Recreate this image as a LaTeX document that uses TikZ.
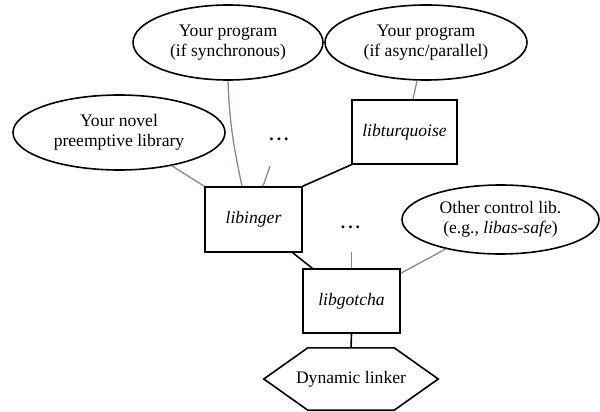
\documentclass[tikz,border=0pt]{standalone}
\usepackage{fontspec}
\setmainfont{LiberationSerif}[Extension=.ttf, UprightFont=*-Regular, ItalicFont=*-Italic, BoldFont=*-Bold, BoldItalicFont=*-BoldItalic]
\usetikzlibrary{shapes.geometric}
\definecolor{linkgray}{RGB}{122,140,162}
\begin{document}
\begin{tikzpicture}[x=1pt,y=-1pt,
  every node/.style={font=\rmfamily\fontsize{17.6}{19.5}\selectfont, align=center, inner sep=0pt},
  oval/.style={ellipse, draw, line width=1.6pt},
  libbox/.style={rectangle, draw, line width=1.6pt, minimum width=97pt, minimum height=64pt},
  blk/.style={line width=1.6pt},
  gry/.style={line width=1.3pt, draw=linkgray},
  dotsstyle/.style={font=\rmfamily\fontsize{17.6}{19.5}\selectfont\bfseries}]
\useasboundingbox (0,0) rectangle (600,412);

\node[oval, minimum width=190pt, minimum height=75pt] (sync) at (228,42.5) {Your program\\(if synchronous)};
\node[oval, minimum width=202pt, minimum height=75pt] (async) at (426,42.5) {Your program\\(if async/parallel)};
\node[oval, minimum width=212pt, minimum height=75pt] (novel) at (119,132.5) {Your novel\\preemptive library};
\node[oval, minimum width=197pt, minimum height=69pt] (other) at (500.5,219.5) {Other control lib.\\(e.g., \textit{libas-safe})};

\node[libbox, minimum width=105pt] (turq) at (404.5,132) {\textit{libturquoise}};
\node[libbox, minimum height=65pt] (inger) at (253.5,219.5) {\textit{libinger}};
\node[libbox] (gotcha) at (351.5,301) {\textit{libgotcha}};

\node[minimum width=174pt, minimum height=62pt] (hex) at (351,379) {Dynamic linker};
\draw[blk, line join=miter] (hex.west) -- ([xshift=44pt]hex.north west) -- ([xshift=-44pt]hex.north east)
  -- (hex.east) -- ([xshift=-44pt]hex.south east) -- ([xshift=44pt]hex.south west) -- cycle;

\node[dotsstyle] (dots1) at (279,139) {.\,.\,.};
\node[dotsstyle] (dots2) at (350.5,227) {.\,.\,.};
\coordinate (d1) at (270,166);
\coordinate (d2) at (351.5,252);

% gray connectors
\draw[gry] (novel) -- (inger.north west);
\draw[gry] (sync.south) to[out=-88,in=102] ([xshift=-11.5pt]inger.north);
\draw[gry] (d1) -- ([xshift=9.5pt]inger.north);
\draw[gry] ([xshift=-9pt]async.south) -- ([xshift=8.5pt]turq.north);
\draw[gry] (d2) -- (gotcha.north);
\draw[gry] (other) -- ([yshift=-5pt]gotcha.north east);

% black connectors
\draw[blk] (inger.north east) -- (turq.south west);
\draw[blk] ([xshift=-10pt]inger.south east) -- ([xshift=10pt]gotcha.north west);
\draw[blk] (gotcha.south) -- (hex.north);
\end{tikzpicture}
\end{document}
